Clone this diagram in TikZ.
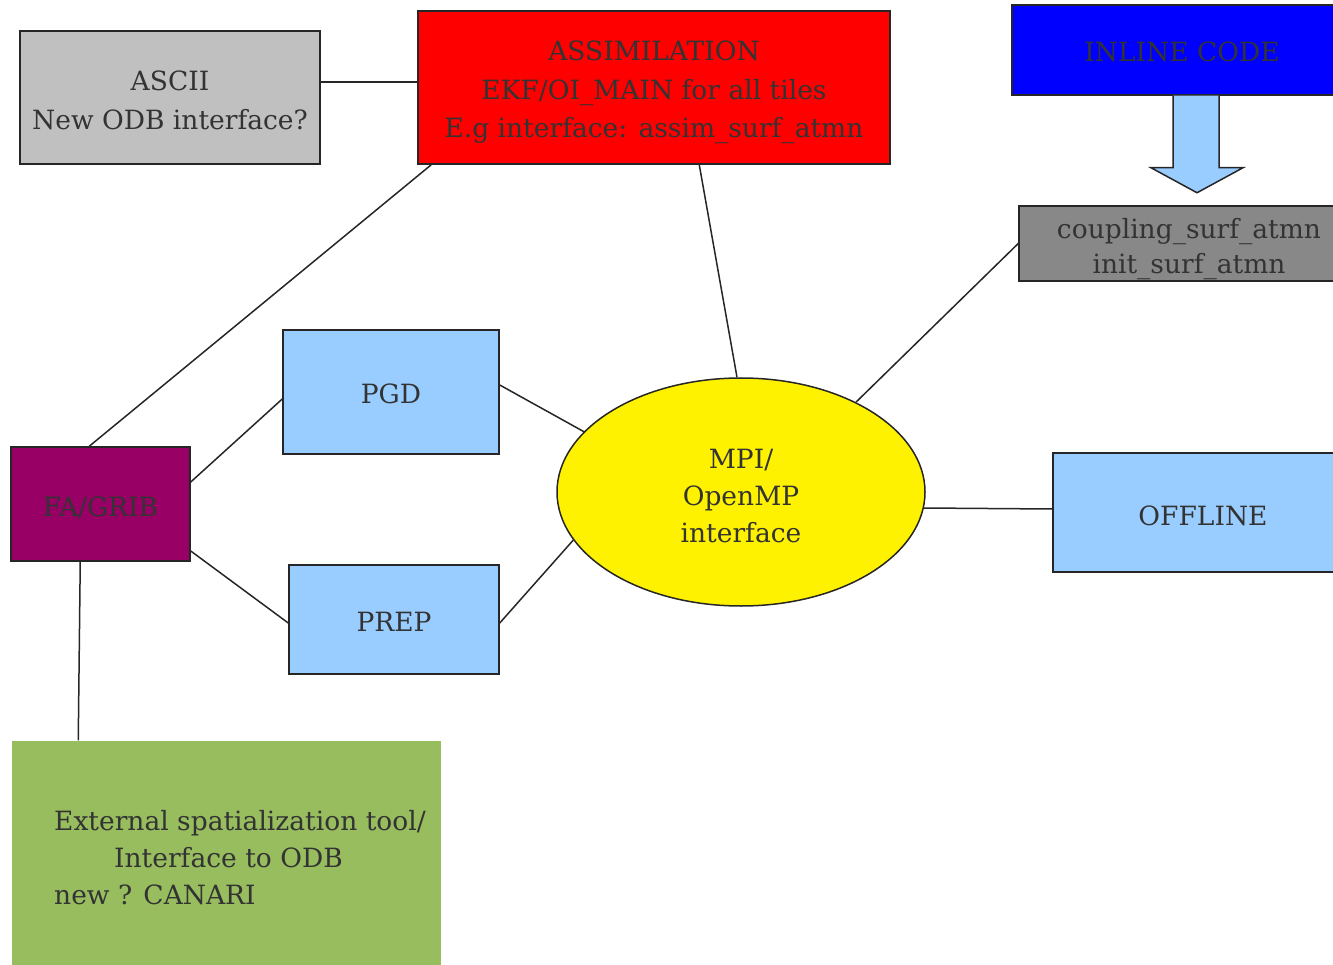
\documentclass[tikz,border=0pt]{standalone}
\usepackage{fontspec}
\newfontfamily\tnr{DejaVu Serif}
\usetikzlibrary{shapes.geometric,calc}
\definecolor{txt}{HTML}{333333}
\definecolor{asciigray}{HTML}{C0C0C0}
\definecolor{cplgray}{HTML}{888888}
\definecolor{lblue}{HTML}{99CCFF}
\definecolor{purp}{HTML}{990066}
\definecolor{grn}{HTML}{97BD5E}
\newcommand\lowtext[2][3pt]{\raisebox{-#1}[\height][\depth]{\begin{tabular}{@{}c@{}}#2\end{tabular}}}
\tikzset{
  box/.style={draw=black!85, line width=1.5pt, rectangle, inner sep=0pt, text=txt,
    font=\tnr\fontsize{26.5}{38.5}\selectfont},
  conn/.style={draw=black!85, line width=1.5pt},
}
\begin{document}
\begin{tikzpicture}[x=1pt,y=-1pt]
\useasboundingbox (0,0) rectangle (1333,965);
\clip (0,0) rectangle (1333,965);
% boxes
\node[box, fill=asciigray, minimum width=300, minimum height=133] (ascii) at (170,97.5) {\lowtext[5pt]{ASCII\\New ODB interface?}};
\node[box, fill=red, minimum width=472, minimum height=153] (assim) at (654,87.5) {\lowtext[4pt]{ASSIMILATION\\EKF/OI\_MAIN  for all tiles\\E.g interface: assim\_surf\_atmn}};
\node[box, fill=blue, minimum width=340, minimum height=90] (inline) at (1182,50) {\lowtext[4pt]{INLINE CODE}};
\node[box, fill=cplgray, minimum width=340, minimum height=75, font=\tnr\fontsize{26.5}{35}\selectfont] (cpl) at (1189,243.5) {\lowtext[6pt]{coupling\_surf\_atmn\\init\_surf\_atmn}};
\node[box, fill=lblue, minimum width=216, minimum height=124] (pgd) at (391,392) {\lowtext[4pt]{PGD}};
\node[box, fill=lblue, minimum width=210, minimum height=109] (prep) at (394,619.5) {\lowtext[4pt]{PREP}};
\node[box, fill=purp, minimum width=179, minimum height=114] (fa) at (100.5,504) {\lowtext[5pt]{FA/GRIB}};
\node[box, ellipse, fill=yellow, minimum width=368, minimum height=228, font=\tnr\fontsize{26.5}{37}\selectfont] (mpi) at (741,492) {\lowtext[6pt]{MPI/\\OpenMP\\interface}};
\node[box, fill=lblue, minimum width=300, minimum height=119] (offline) at (1203,512.5) {\lowtext[5pt]{OFFLINE}};
\node[box, draw=none, fill=grn, minimum width=429, minimum height=240] (ext) at (226.5,861) {};
\node[anchor=west, align=left, inner sep=0pt, text=txt, font=\tnr\fontsize{26.5}{37}\selectfont] (exttext) at (54,858) {External spatialization tool/\\\hspace*{60pt}Interface to ODB\\new ? CANARI};
% arrow
\draw[line width=1.5pt, draw=black!85, fill=lblue]
  ($(inline.south)+(-9,0)$) -- ($(inline.south)+(-9,72)$) -- ($(inline.south)+(-31,72)$)
  -- ($(inline.south)+(15,97)$) -- ($(inline.south)+(61,72)$) -- ($(inline.south)+(37,72)$)
  -- ($(inline.south)+(37,0)$);
% connectors
\draw[conn] ($(ascii.east)+(0,-15.5)$) -- ($(assim.west)+(0,-5.5)$);
\draw[conn] ($(assim.south west)+(14,0)$) -- ($(fa.north west)+(79,0)$);
\draw[conn] ($(assim.south west)+(282,0)$) -- (mpi.92.5);
\draw[conn] (cpl.west) -- (mpi.38);
\draw[conn] ($(pgd.east)+(0,-7)$) -- (mpi.159);
\draw[conn] ($(prep.east)+(0,3.5)$) -- (mpi.196);
\draw[conn] (mpi.355) -- ($(offline.west)+(0,-3.5)$);
\draw[conn] ($(fa.east)+(0,-22)$) -- ($(pgd.west)+(0,7)$);
\draw[conn] ($(fa.east)+(0,47)$) -- ($(prep.west)+(0,3.5)$);
\draw[conn] ($(fa.south west)+(70,0)$) -- ($(ext.north west)+(67,0)$);
\end{tikzpicture}
\end{document}
